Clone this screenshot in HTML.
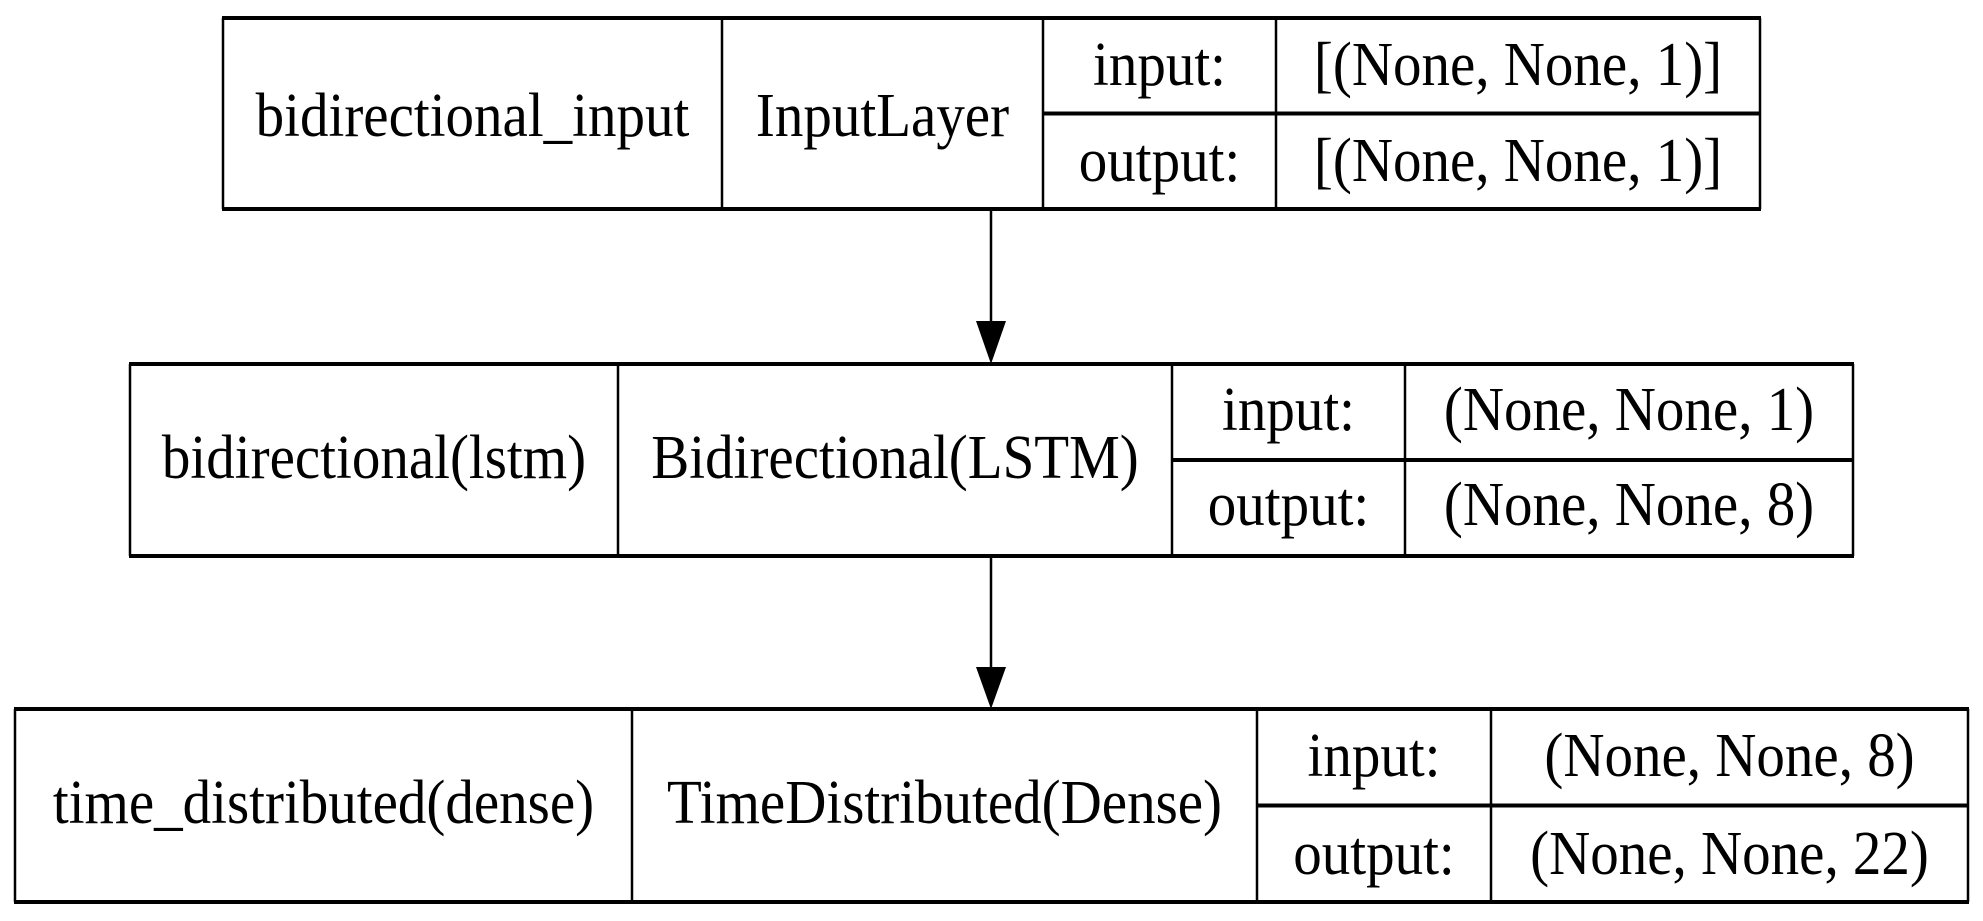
<!DOCTYPE html>
<html><head><meta charset="utf-8"><style>
html,body{margin:0;padding:0;background:#fff;width:1983px;height:921px;overflow:hidden}
svg{display:block}
text{font-family:"Liberation Serif",serif;font-size:57px;fill:#000}
</style></head><body>
<svg width="1983" height="921" viewBox="0 0 1983 921">
<g id="layers"></g>
<g>
<line x1="991" y1="209" x2="991" y2="323" stroke="#000" stroke-width="2.5"/>
<polygon points="976,321 1006,321 991,364" fill="#000"/>
</g>
<g>
<line x1="991" y1="556" x2="991" y2="669" stroke="#000" stroke-width="2.5"/>
<polygon points="976,667 1006,667 991,709" fill="#000"/>
</g>
</svg>
<script>
const names=["bidirectional_input","bidirectional(lstm)","time_distributed(dense)"];
const types=["InputLayer","Bidirectional(LSTM)","TimeDistributed(Dense)"];
const ins=["[(None, None, 1)]","(None, None, 1)","(None, None, 8)"];
const outs=["[(None, None, 1)]","(None, None, 8)","(None, None, 22)"];
const geo=[
 {x0:223,x1:1760,y0:18,y1:209,d:[722,1043,1276],b:[85,136,181]},
 {x0:130,x1:1853,y0:364,y1:556,d:[618,1172,1405],b:[430,478,525]},
 {x0:15,x1:1968,y0:709,y1:902,d:[632,1257,1491],b:[776,823,874]}
];
const NS="http://www.w3.org/2000/svg";
const root=document.getElementById('layers');
function mk(tag,attrs,parent){const e=document.createElementNS(NS,tag);for(const k in attrs)e.setAttribute(k,attrs[k]);parent.appendChild(e);return e;}
function txt(str,cx,by,parent,name){
 const t=mk('text',{'text-anchor':'middle',transform:'translate('+cx+','+by+') scale(1,1.09)'},parent);
 t.textContent=str;
 
 
}
geo.forEach((g,i)=>{
 const grp=mk('g',{},root);
 
 
 const mid=(g.y0+g.y1)/2;
 mk('line',{x1:g.x0,y1:g.y0,x2:g.x0,y2:g.y1,stroke:'#000','stroke-width':2.5},grp);
 mk('line',{x1:g.x1,y1:g.y0,x2:g.x1,y2:g.y1,stroke:'#000','stroke-width':2.5},grp);
 mk('line',{x1:g.x0-1,y1:g.y0,x2:g.x1+1,y2:g.y0,stroke:'#000','stroke-width':4},grp);
 mk('line',{x1:g.x0-1,y1:g.y1,x2:g.x1+1,y2:g.y1,stroke:'#000','stroke-width':4},grp);
 g.d.forEach(dx=>mk('line',{x1:dx,y1:g.y0,x2:dx,y2:g.y1,stroke:'#000','stroke-width':2.5},grp));
 mk('line',{x1:g.d[1],y1:mid,x2:g.x1,y2:mid,stroke:'#000','stroke-width':4},grp);
 txt(names[i],(g.x0+g.d[0])/2,g.b[1],grp,'layer-name');
 txt(types[i],(g.d[0]+g.d[1])/2,g.b[1],grp,'layer-type');
 txt('input:',(g.d[1]+g.d[2])/2,g.b[0],grp,'input-label');
 txt(ins[i],(g.d[2]+g.x1)/2,g.b[0],grp,'input-shape');
 txt('output:',(g.d[1]+g.d[2])/2,g.b[2],grp,'output-label');
 txt(outs[i],(g.d[2]+g.x1)/2,g.b[2],grp,'output-shape');
});
</script>
</body></html>
